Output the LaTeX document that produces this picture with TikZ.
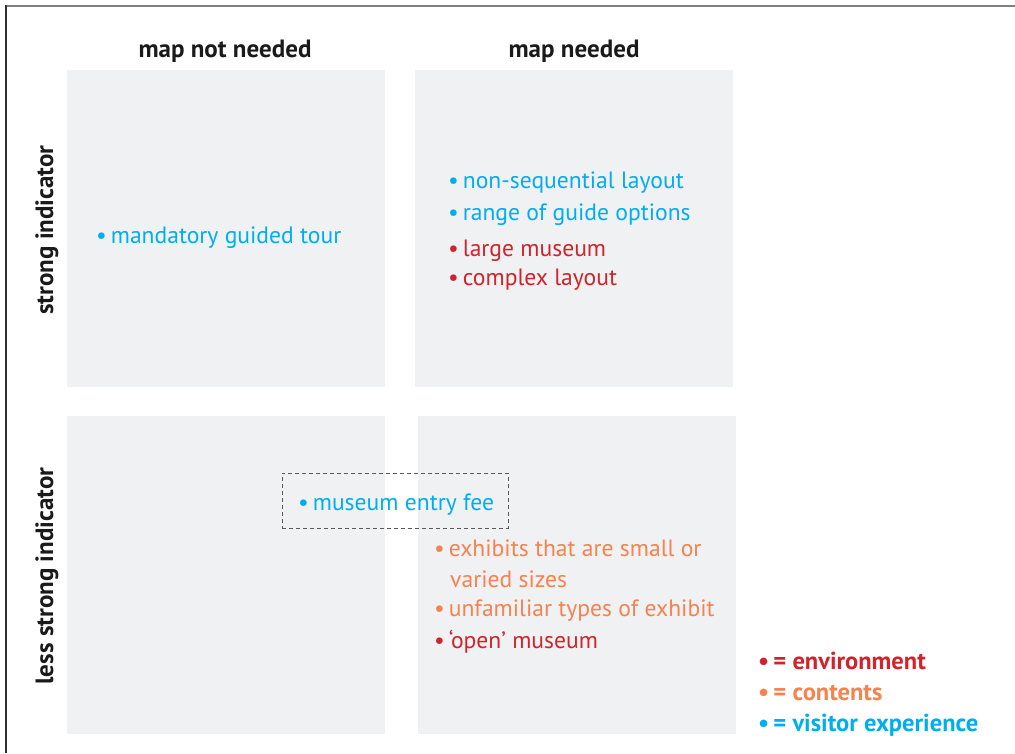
\documentclass[tikz,border=0pt]{standalone}
\usepackage{fontspec}
\setmainfont{PT Sans}
\definecolor{cellgray}{HTML}{F0F1F3}
\definecolor{envred}{HTML}{D0232B}
\definecolor{contorange}{HTML}{F5824F}
\definecolor{visblue}{HTML}{00AEEF}
\definecolor{headink}{HTML}{1A1A1A}
\newcommand{\blt}{\textbullet\hspace{0.17em}}
\begin{document}
\begin{tikzpicture}[x=1pt,y=-1pt,
  cell/.style={fill=cellgray,draw=none},
  item/.style={anchor=west,inner sep=0pt,font=\fontsize{23.6}{28}\selectfont},
  head/.style={inner sep=0pt,font=\fontsize{25}{30}\selectfont\bfseries,text=headink},
  legend/.style={anchor=west,inner sep=0pt,font=\fontsize{24.5}{29}\selectfont\bfseries},
  frameline/.style={line width=1.6pt}]
\useasboundingbox (0,0) rectangle (1015,753);
% outer frame: top and left edges only
\draw[frameline,draw=gray] (5,6) -- (1015,6);
\draw[frameline,draw=headink!90] (6,5) -- (6,753);
% the four quadrants
\fill[cell] (67,70) rectangle (385,387);
\fill[cell] (415,70) rectangle (733,387);
\fill[cell] (67,416) rectangle (385,734);
\fill[cell] (418,416) rectangle (736,734);
% column and row headings
\node[head] (hnot) at (225,51) {map not needed};
\node[head] (hneed) at (574,51) {map needed};
\node[head,rotate=90] (hstrong) at (47,230) {strong indicator};
\node[head,rotate=90] (hless) at (47,576) {less strong indicator};
% top-left quadrant
\node[item,text=visblue] (tour) at (96,238) {\blt mandatory guided tour};
% top-right quadrant
\node[item,text=visblue] (nonseq) at (448,183) {\blt non-sequential layout};
\node[item,text=visblue] (range) at (448,215) {\blt range of guide options};
\node[item,text=envred] (large) at (448,251) {\blt large museum};
\node[item,text=envred] (complex) at (448,280) {\blt complex layout};
% entry fee straddles the two lower quadrants
\node[draw=black!65,dash pattern=on 4pt off 3pt,line width=0.9pt,minimum width=226pt,minimum height=55pt,inner sep=0pt] (feebox) at (395,500.5) {};
\node[item,text=visblue] (fee) at (298,505) {\blt museum entry fee};
% bottom-right quadrant
\node[item,text=contorange] (small) at (434,548) {\blt exhibits that are small or};
\node[item,text=contorange] (varied) at (450,579) {varied sizes};
\node[item,text=contorange] (unfam) at (434,611) {\blt unfamiliar types of exhibit};
\node[item,text=envred] (open) at (434,642) {\blt `open' museum};
% key
\node[legend,text=envred] (kenv) at (758,661) {\blt = environment};
\node[legend,text=contorange] (kcont) at (758,693) {\blt = contents};
\node[legend,text=visblue] (kvis) at (758,725) {\blt = visitor experience};
\end{tikzpicture}
\end{document}
